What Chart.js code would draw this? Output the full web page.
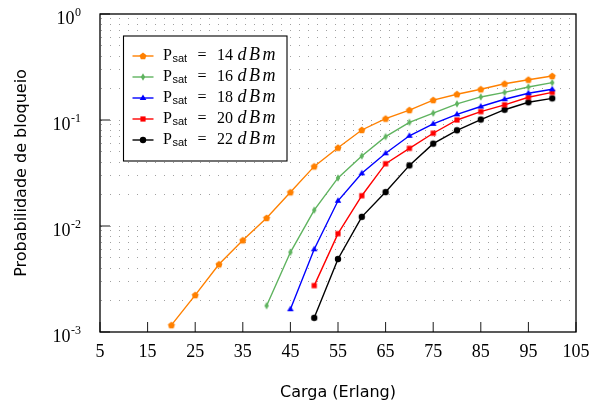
<!DOCTYPE html>
<html>
<head>
<meta charset="utf-8">
<script src="https://cdn.jsdelivr.net/npm/chart.js@4.4.0/dist/chart.umd.min.js"></script>
<style>
    html, body { margin: 0; padding: 0; background: #fff; }
    #wrap { width: 597px; height: 409px; }
</style>
</head>
<body>
<div id="wrap"><canvas id="chart" width="597" height="409"></canvas></div>
<script>
// Carga (Erlang) on the x axis
const carga = [20, 25, 30, 35, 40, 45, 50, 55, 60, 65, 70, 75, 80, 85, 90, 95, 100];

// Probabilidade de bloqueio for each Psat (null = no point)
const psat14 = [0.00116, 0.00223, 0.00435, 0.00733, 0.0119, 0.0208, 0.0365, 0.0548, 0.0805, 0.103, 0.124, 0.154, 0.175, 0.195, 0.220, 0.240, 0.260];
const psat16 = [null, null, null, null, 0.00177, 0.00565, 0.0141, 0.0284, 0.0457, 0.0696, 0.095, 0.116, 0.142, 0.165, 0.182, 0.205, 0.225];
const psat18 = [null, null, null, null, null, 0.00164, 0.00603, 0.0173, 0.0314, 0.0485, 0.071, 0.092, 0.113, 0.134, 0.157, 0.179, 0.195];
const psat20 = [null, null, null, null, null, null, 0.00274, 0.00847, 0.0193, 0.0387, 0.054, 0.075, 0.100, 0.120, 0.139, 0.164, 0.182];
const psat22 = [null, null, null, null, null, null, 0.00136, 0.00488, 0.0122, 0.0209, 0.0373, 0.0598, 0.080, 0.101, 0.125, 0.147, 0.160];

const seriesValues = [psat14, psat16, psat18, psat20, psat22];
const seriesNames = ['14', '16', '18', '20', '22'];
const seriesColors = ['#ff8000', '#5fb35f', '#0000ff', '#ff0000', '#000000'];
const seriesMarkers = ['pentagon', 'diamond', 'triangle', 'square', 'circle'];

// Tick labels
const xTicks = [5, 15, 25, 35, 45, 55, 65, 75, 85, 95, 105];
const yTicks = [0.001, 0.01, 0.1, 1];
const yExponents = ['-3', '-2', '-1', '0'];

// minor positions for the dotted horizontal grid
const gridValues = [];
for (let e = -3; e < 0; e++) {
    for (let m = 1; m <= 9; m++) {
        if (e === -3 && m === 1) continue;
        gridValues.push(m * Math.pow(10, e));
    }
}

function makeMarker(kind, color) {
    const c = document.createElement('canvas');
    c.width = 12;
    c.height = 12;
    const g = c.getContext('2d');
    g.fillStyle = color;
    g.beginPath();
    if (kind === 'pentagon') {
        for (let i = 0; i < 5; i++) {
            const a = -Math.PI / 2 + i * 2 * Math.PI / 5;
            const px = 6 + 3.7 * Math.cos(a);
            const py = 6.3 + 3.7 * Math.sin(a);
            if (i === 0) g.moveTo(px, py); else g.lineTo(px, py);
        }
    } else if (kind === 'diamond') {
        g.moveTo(6, 2.2);
        g.lineTo(8.2, 6);
        g.lineTo(6, 9.8);
        g.lineTo(3.8, 6);
    } else if (kind === 'triangle') {
        g.moveTo(6, 2.4);
        g.lineTo(9.3, 8);
        g.lineTo(2.7, 8);
    } else if (kind === 'square') {
        g.rect(3.4, 3.4, 5.2, 5.2);
    } else {
        g.arc(6, 6, 3.2, 0, Math.PI * 2);
    }
    g.closePath();
    g.fill();
    return c;
}

const markerImages = seriesMarkers.map((k, i) => makeMarker(k, seriesColors[i]));

const datasets = seriesValues.map((vals, i) => ({
    label: 'Psat = ' + seriesNames[i] + ' dBm',
    data: carga.map((x, j) => ({ x: x, y: vals[j] })).filter(p => p.y !== null),
    borderColor: seriesColors[i],
    backgroundColor: seriesColors[i],
    borderWidth: 1.4,
    pointStyle: markerImages[i],
    pointRadius: 3.5,
    tension: 0
}));

// frame, inner ticks, tick labels, axis titles and legend
const decorPlugin = {
    id: 'decor',
    afterDraw(chart) {
        const ctx = chart.ctx;
        const a = chart.chartArea;
        const xs = chart.scales.x;
        const ys = chart.scales.y;
        ctx.save();

        // inner tick marks
        ctx.strokeStyle = '#000';
        ctx.lineWidth = 0.9;
        ctx.beginPath();
        xTicks.forEach(v => {
            const px = xs.getPixelForValue(v);
            ctx.moveTo(px, a.bottom);
            ctx.lineTo(px, a.bottom - 10);
        });
        yTicks.forEach(v => {
            const py = ys.getPixelForValue(v);
            ctx.moveTo(a.left, py);
            ctx.lineTo(a.left + 10, py);
        });
        ctx.stroke();

        // frame
        ctx.lineWidth = 1.3;
        ctx.strokeRect(a.left, a.top, a.right - a.left, a.bottom - a.top);

        // x tick labels
        ctx.fillStyle = '#000';
        ctx.font = '18px "Liberation Serif"';
        ctx.textAlign = 'center';
        ctx.textBaseline = 'alphabetic';
        xTicks.forEach(v => {
            ctx.fillText(String(v), xs.getPixelForValue(v), a.bottom + 24.5);
        });

        // y tick labels 10^n
        yTicks.forEach((v, i) => {
            const py = ys.getPixelForValue(v);
            ctx.textAlign = 'right';
            ctx.font = '12px "Liberation Serif"';
            const ew = ctx.measureText(yExponents[i]).width;
            ctx.fillText(yExponents[i], 81, py + 1.5);
            ctx.font = '18px "Liberation Serif"';
            ctx.fillText('10', 81 - ew - 0.5, py + 9.6);
        });

        // axis titles
        ctx.font = '16px "DejaVu Sans"';
        ctx.textAlign = 'center';
        ctx.fillText('Carga (Erlang)', (a.left + a.right) / 2, 396.5);
        ctx.save();
        ctx.translate(26, (a.top + a.bottom) / 2);
        ctx.rotate(-Math.PI / 2);
        ctx.fillText('Probabilidade de bloqueio', 0, 0);
        ctx.restore();

        // legend
        const L = 123.5, T = 36, W = 163.5, H = 125;
        ctx.fillStyle = '#fff';
        ctx.fillRect(L, T, W, H);
        ctx.strokeStyle = '#000';
        ctx.lineWidth = 1.1;
        ctx.strokeRect(L, T, W, H);
        ctx.textAlign = 'left';
        seriesNames.forEach((name, i) => {
            const ry = 56 + i * 21;
            ctx.strokeStyle = seriesColors[i];
            ctx.lineWidth = 1.4;
            ctx.beginPath();
            ctx.moveTo(L + 9, ry);
            ctx.lineTo(L + 30, ry);
            ctx.stroke();
            const img = markerImages[i];
            ctx.drawImage(img, L + 19.5 - img.width / 2, ry - img.height / 2);

            ctx.fillStyle = '#000';
            ctx.font = '16px "Liberation Serif"';
            ctx.fillText('P', L + 39.5, ry + 3.5);
            const pw = ctx.measureText('P').width;
            ctx.font = '11px "Liberation Sans"';
            ctx.fillText('sat', L + 39.5 + pw + 0.5, ry + 6);
            ctx.font = '16px "Liberation Serif"';
            ctx.fillText('=', L + 74, ry + 3.5);
            ctx.fillText(name, L + 93.5, ry + 3.5);
            ctx.font = 'italic 18px "Liberation Serif"';
            ctx.letterSpacing = '2.5px';
            ctx.fillText('dBm', L + 114, ry + 3.5);
            ctx.letterSpacing = '0px';
        });

        ctx.restore();
    }
};

const ctx = document.getElementById('chart').getContext('2d');
const chart = new Chart(ctx, {
    type: 'line',
    data: { datasets: datasets },
    options: {
        responsive: false,
        animation: false,
        devicePixelRatio: 1,
        layout: { padding: { left: 100, top: 14, right: 21, bottom: 77 } },
        plugins: {
            legend: { display: false },
            tooltip: { enabled: false }
        },
        scales: {
            x: {
                type: 'linear',
                min: 5,
                max: 105,
                grid: { display: false, drawTicks: false },
                border: { display: false },
                ticks: { display: false, stepSize: 10 },
                afterFit: scale => { scale.height = 0; }
            },
            y: {
                type: 'logarithmic',
                min: 0.001,
                max: 1,
                grid: { color: '#a0a0a0', lineWidth: 1, drawTicks: false },
                border: { display: false, dash: [1, 8], dashOffset: 8 },
                ticks: { display: false },
                afterBuildTicks: scale => {
                    scale.ticks = gridValues.map(v => ({ value: v }));
                },
                afterFit: scale => { scale.width = 0; }
            }
        }
    },
    plugins: [decorPlugin]
});
</script>
</body>
</html>
